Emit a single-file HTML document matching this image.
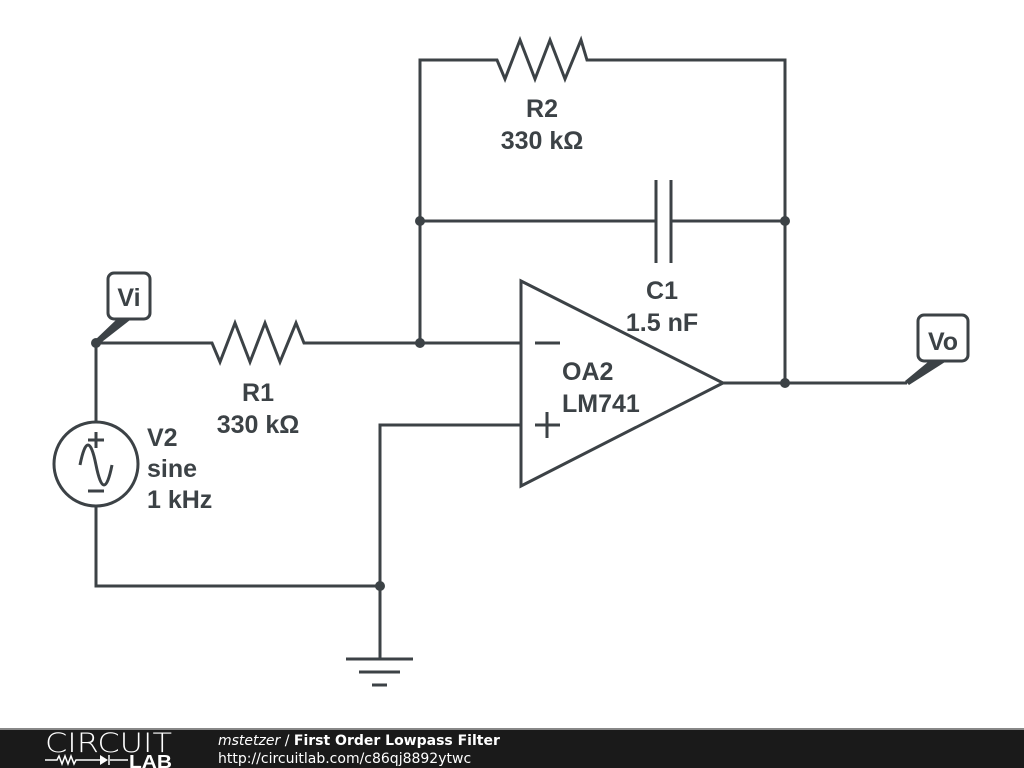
<!DOCTYPE html>
<html><head><meta charset="utf-8"><style>
html,body{margin:0;padding:0;background:#fff;}
svg{display:block;}
.t{font-family:"Liberation Sans",sans-serif;font-weight:bold;font-size:25px;fill:#3c4246;}
</style></head><body>
<svg width="1024" height="768" viewBox="0 0 1024 768" xmlns="http://www.w3.org/2000/svg">
<g stroke="#3c4246" stroke-width="3" fill="none" stroke-linejoin="miter">
<polyline points="96,343 212,343 220,362 235,323 250,362 265,323 280,362 296,323 304,343 521,343"/>
<polyline points="96,343 96,422"/>
<polyline points="96,506 96,586 380,586"/>
<circle cx="96" cy="464" r="42"/>
<line x1="88" y1="440" x2="104" y2="440"/>
<line x1="96" y1="432" x2="96" y2="448"/>
<line x1="88" y1="491" x2="104" y2="491"/>
<path d="M80,465 Q88,425 96,465 Q104,505 112,465"/>
<polyline points="420,343 420,60 497,60 505,79 520,40 535,79 550,40 565,79 581,40 587,60 785,60 785,383"/>
<line x1="420" y1="221" x2="656" y2="221"/>
<line x1="671" y1="221" x2="785" y2="221"/>
<line x1="656" y1="180" x2="656" y2="263"/>
<line x1="671" y1="180" x2="671" y2="263"/>
<polygon points="521,281 521,486 723,383"/>
<line x1="535" y1="343" x2="560" y2="343"/>
<line x1="535" y1="425" x2="560" y2="425"/>
<line x1="547" y1="412" x2="547" y2="438"/>
<polyline points="521,425 380,425 380,659"/>
<line x1="346" y1="659" x2="413" y2="659"/>
<line x1="359" y1="672" x2="400" y2="672"/>
<line x1="372" y1="685" x2="387" y2="685"/>
<line x1="723" y1="383" x2="907" y2="383"/>
<rect x="108" y="273" width="42" height="46" rx="6" fill="#fff"/>
<rect x="918" y="315" width="50" height="46" rx="6" fill="#fff"/>
</g>
<g fill="#3c4246">
<polygon points="94,341 98,345 130,320 116,320"/>
<polygon points="905,381 909,385 945,362 928,362"/>
<circle cx="96" cy="343" r="5"/>
<circle cx="420" cy="343" r="5"/>
<circle cx="420" cy="221" r="5"/>
<circle cx="785" cy="221" r="5"/>
<circle cx="785" cy="383" r="5"/>
<circle cx="380" cy="586" r="5"/>
</g>
<text class="t" x="129" y="306" text-anchor="middle">Vi</text>
<text class="t" x="943" y="350" text-anchor="middle">Vo</text>
<text class="t" x="258" y="401" text-anchor="middle">R1</text>
<text class="t" x="258" y="433" text-anchor="middle">330 kΩ</text>
<text class="t" x="542" y="117" text-anchor="middle">R2</text>
<text class="t" x="542" y="149" text-anchor="middle">330 kΩ</text>
<text class="t" x="662" y="299" text-anchor="middle">C1</text>
<text class="t" x="662" y="331" text-anchor="middle">1.5 nF</text>
<text class="t" x="562" y="380">OA2</text>
<text class="t" x="562" y="412">LM741</text>
<text class="t" x="147" y="446">V2</text>
<text class="t" x="147" y="477">sine</text>
<text class="t" x="147" y="508">1 kHz</text>
<rect x="0" y="728" width="1024" height="40" fill="#1a1a1a"/>
<rect x="0" y="728" width="1024" height="2" fill="#888"/>
<text x="45" y="752" textLength="127" lengthAdjust="spacingAndGlyphs" style="font-family:'DejaVu Sans',sans-serif;font-size:27px;fill:#fff;font-weight:200">CIRCUIT</text>
<g stroke="#fff" stroke-width="1.5" fill="none">
<polyline points="45,760 57,760 59,756 62,764 65,756 68,764 71,756 74,764 76,760 100,760"/>
<line x1="110" y1="760" x2="128" y2="760"/>
<line x1="109" y1="755" x2="109" y2="765"/>
</g>
<polygon points="100,755 100,765 108,760" fill="#fff"/>
<text x="129" y="768" textLength="43" lengthAdjust="spacingAndGlyphs" style="font-family:'Liberation Sans',sans-serif;font-weight:bold;font-size:18px;fill:#fff">LAB</text>
<text x="218" y="745" style="font-family:'DejaVu Sans',sans-serif;font-size:14px;fill:#fff"><tspan font-style="italic">mstetzer</tspan> / <tspan font-weight="bold">First Order Lowpass Filter</tspan></text>
<text x="218" y="763" style="font-family:'DejaVu Sans',sans-serif;font-size:14px;fill:#fff">http://circuitlab.com/c86qj8892ytwc</text>
</svg>
</body></html>
